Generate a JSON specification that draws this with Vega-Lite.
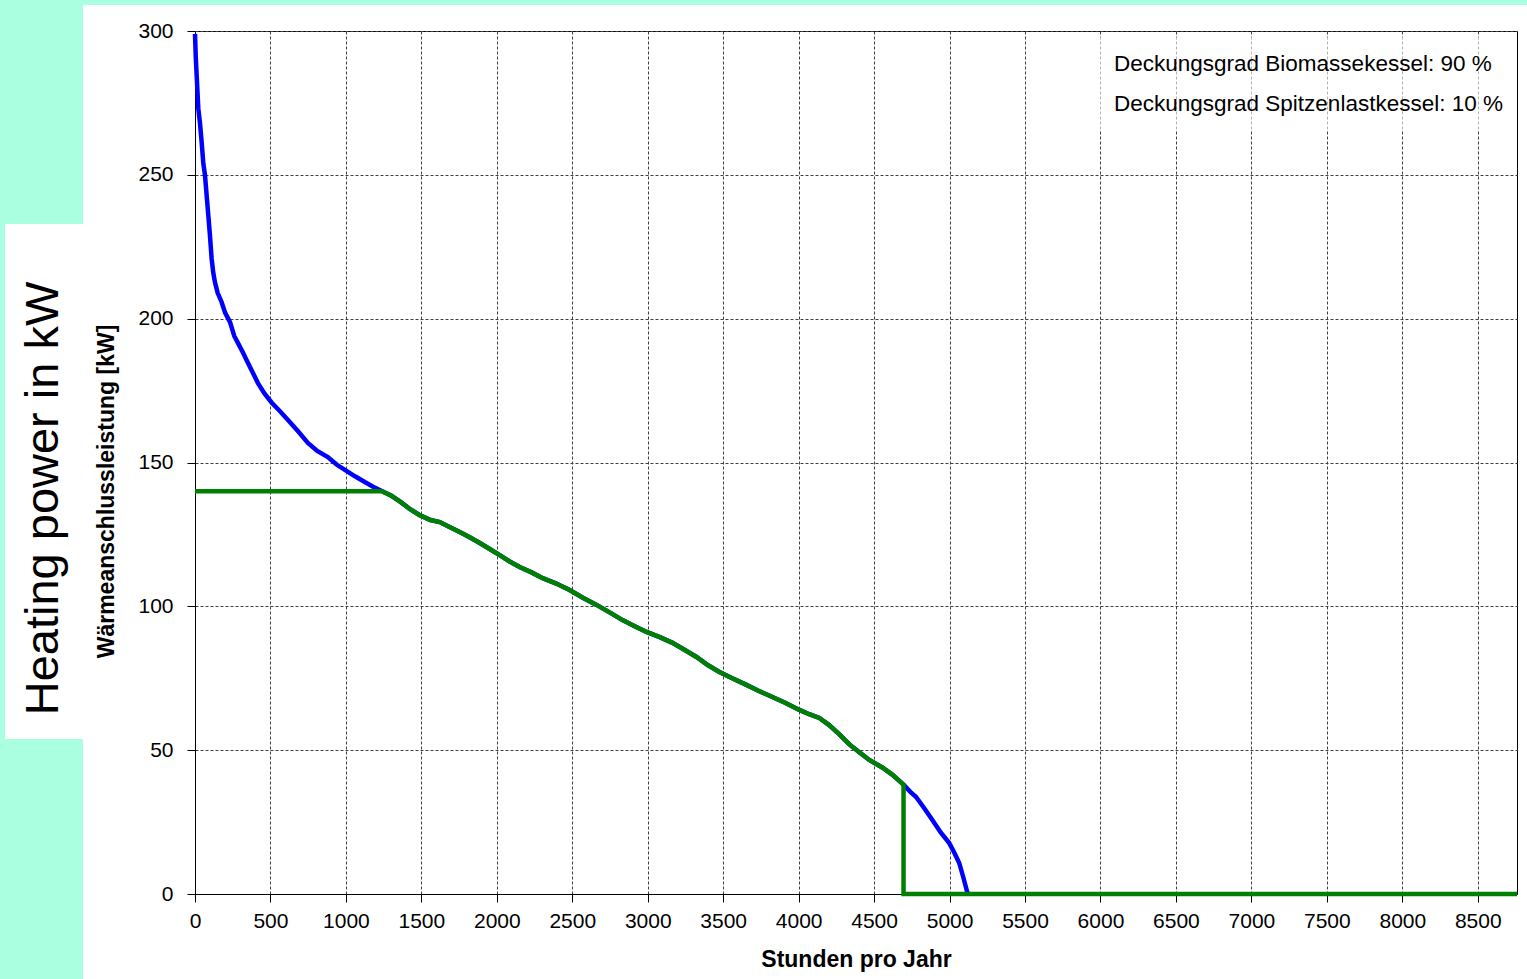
{
  "$schema": "https://vega.github.io/schema/vega-lite/v6.json",
  "background": "white",
  "padding": 0,
  "config": {
    "view": {"stroke": null},
    "font": "Liberation Sans"
  },
  "spacing": 0,
  "bounds": "flush",
  "vconcat": [
    {
      "width": 1527, "height": 5,
      "data": {"values": []},
      "mark": "rect",
      "encoding": {},
      "view": {"fill": "#aaffe1", "stroke": null}
    },
    {
      "spacing": 0,
      "bounds": "flush",
      "hconcat": [
        {
          "width": 5, "height": 974,
          "data": {"values": []},
          "mark": "rect",
          "encoding": {},
          "view": {"fill": "#aaffe1", "stroke": null}
        },
        {
          "width": 78, "height": 974,
          "view": {"fill": "#aaffe1", "stroke": null},
          "data": {"values": [{"label": "Heating power in kW"}]},
          "encoding": {
            "y": {
              "field": "label", "type": "nominal",
              "scale": {"paddingInner": 0, "paddingOuter": 0.44563, "align": 0.4771},
              "axis": null
            }
          },
          "layer": [
            {"mark": {"type": "bar", "color": "white"}},
            {
              "mark": {"type": "text", "angle": 270, "fontSize": 47, "font": "Liberation Sans", "color": "black", "align": "center", "baseline": "middle", "dx": -17},
              "encoding": {"text": {"field": "label"}}
            }
          ]
        },
        {
          "width": 112, "height": 974,
          "data": {"values": []},
          "mark": "rect",
          "encoding": {},
          "view": {"stroke": null}
        },
        {
          "spacing": 0,
          "bounds": "flush",
          "resolve": {"scale": {"color": "independent"}, "legend": {"color": "independent"}},
          "vconcat": [
            {
              "width": 1322, "height": 26,
              "data": {"values": []},
              "mark": "rect",
              "encoding": {},
              "view": {"stroke": null}
            },
            {
              "width": 1322, "height": 863,
              "view": {"stroke": "black", "strokeWidth": 1},
              "data": {"values": [
                {"s": "Deckungsgrad Spitzenlastkessel: 10 %", "h": 0, "kW": 299},
                {"s": "Deckungsgrad Spitzenlastkessel: 10 %", "h": 5, "kW": 291},
                {"s": "Deckungsgrad Spitzenlastkessel: 10 %", "h": 11, "kW": 284.7},
                {"s": "Deckungsgrad Spitzenlastkessel: 10 %", "h": 22, "kW": 273},
                {"s": "Deckungsgrad Spitzenlastkessel: 10 %", "h": 33, "kW": 268},
                {"s": "Deckungsgrad Spitzenlastkessel: 10 %", "h": 44, "kW": 261.4},
                {"s": "Deckungsgrad Spitzenlastkessel: 10 %", "h": 55, "kW": 254},
                {"s": "Deckungsgrad Spitzenlastkessel: 10 %", "h": 66, "kW": 250},
                {"s": "Deckungsgrad Spitzenlastkessel: 10 %", "h": 77, "kW": 243},
                {"s": "Deckungsgrad Spitzenlastkessel: 10 %", "h": 88, "kW": 236},
                {"s": "Deckungsgrad Spitzenlastkessel: 10 %", "h": 99, "kW": 229},
                {"s": "Deckungsgrad Spitzenlastkessel: 10 %", "h": 110, "kW": 221},
                {"s": "Deckungsgrad Spitzenlastkessel: 10 %", "h": 121, "kW": 216},
                {"s": "Deckungsgrad Spitzenlastkessel: 10 %", "h": 132, "kW": 212.7},
                {"s": "Deckungsgrad Spitzenlastkessel: 10 %", "h": 150, "kW": 209},
                {"s": "Deckungsgrad Spitzenlastkessel: 10 %", "h": 176, "kW": 205.8},
                {"s": "Deckungsgrad Spitzenlastkessel: 10 %", "h": 200, "kW": 202},
                {"s": "Deckungsgrad Spitzenlastkessel: 10 %", "h": 232, "kW": 198.8},
                {"s": "Deckungsgrad Spitzenlastkessel: 10 %", "h": 260, "kW": 194},
                {"s": "Deckungsgrad Spitzenlastkessel: 10 %", "h": 285, "kW": 191.5},
                {"s": "Deckungsgrad Spitzenlastkessel: 10 %", "h": 320, "kW": 188},
                {"s": "Deckungsgrad Spitzenlastkessel: 10 %", "h": 351, "kW": 184.6},
                {"s": "Deckungsgrad Spitzenlastkessel: 10 %", "h": 385, "kW": 181},
                {"s": "Deckungsgrad Spitzenlastkessel: 10 %", "h": 417, "kW": 177.6},
                {"s": "Deckungsgrad Spitzenlastkessel: 10 %", "h": 460, "kW": 174},
                {"s": "Deckungsgrad Spitzenlastkessel: 10 %", "h": 510, "kW": 170.7},
                {"s": "Deckungsgrad Spitzenlastkessel: 10 %", "h": 560, "kW": 168},
                {"s": "Deckungsgrad Spitzenlastkessel: 10 %", "h": 616, "kW": 164.8},
                {"s": "Deckungsgrad Spitzenlastkessel: 10 %", "h": 680, "kW": 161},
                {"s": "Deckungsgrad Spitzenlastkessel: 10 %", "h": 748, "kW": 156.8},
                {"s": "Deckungsgrad Spitzenlastkessel: 10 %", "h": 810, "kW": 154},
                {"s": "Deckungsgrad Spitzenlastkessel: 10 %", "h": 880, "kW": 151.9},
                {"s": "Deckungsgrad Spitzenlastkessel: 10 %", "h": 940, "kW": 149.2},
                {"s": "Deckungsgrad Spitzenlastkessel: 10 %", "h": 993, "kW": 147.4},
                {"s": "Deckungsgrad Spitzenlastkessel: 10 %", "h": 1060, "kW": 145.2},
                {"s": "Deckungsgrad Spitzenlastkessel: 10 %", "h": 1125, "kW": 143.2},
                {"s": "Deckungsgrad Spitzenlastkessel: 10 %", "h": 1180, "kW": 141.6},
                {"s": "Deckungsgrad Spitzenlastkessel: 10 %", "h": 1238, "kW": 140.1},
                {"s": "Deckungsgrad Spitzenlastkessel: 10 %", "h": 1300, "kW": 138.5},
                {"s": "Deckungsgrad Spitzenlastkessel: 10 %", "h": 1357, "kW": 136.5},
                {"s": "Deckungsgrad Spitzenlastkessel: 10 %", "h": 1420, "kW": 134},
                {"s": "Deckungsgrad Spitzenlastkessel: 10 %", "h": 1489, "kW": 131.7},
                {"s": "Deckungsgrad Spitzenlastkessel: 10 %", "h": 1560, "kW": 130},
                {"s": "Deckungsgrad Spitzenlastkessel: 10 %", "h": 1622, "kW": 129.3},
                {"s": "Deckungsgrad Spitzenlastkessel: 10 %", "h": 1690, "kW": 127.5},
                {"s": "Deckungsgrad Spitzenlastkessel: 10 %", "h": 1754, "kW": 125.8},
                {"s": "Deckungsgrad Spitzenlastkessel: 10 %", "h": 1820, "kW": 124},
                {"s": "Deckungsgrad Spitzenlastkessel: 10 %", "h": 1887, "kW": 122},
                {"s": "Deckungsgrad Spitzenlastkessel: 10 %", "h": 1950, "kW": 120},
                {"s": "Deckungsgrad Spitzenlastkessel: 10 %", "h": 2019, "kW": 117.8},
                {"s": "Deckungsgrad Spitzenlastkessel: 10 %", "h": 2085, "kW": 115.6},
                {"s": "Deckungsgrad Spitzenlastkessel: 10 %", "h": 2151, "kW": 113.7},
                {"s": "Deckungsgrad Spitzenlastkessel: 10 %", "h": 2230, "kW": 111.8},
                {"s": "Deckungsgrad Spitzenlastkessel: 10 %", "h": 2304, "kW": 109.8},
                {"s": "Deckungsgrad Spitzenlastkessel: 10 %", "h": 2390, "kW": 108},
                {"s": "Deckungsgrad Spitzenlastkessel: 10 %", "h": 2482, "kW": 105.7},
                {"s": "Deckungsgrad Spitzenlastkessel: 10 %", "h": 2570, "kW": 103},
                {"s": "Deckungsgrad Spitzenlastkessel: 10 %", "h": 2661, "kW": 100.5},
                {"s": "Deckungsgrad Spitzenlastkessel: 10 %", "h": 2750, "kW": 97.8},
                {"s": "Deckungsgrad Spitzenlastkessel: 10 %", "h": 2833, "kW": 95.2},
                {"s": "Deckungsgrad Spitzenlastkessel: 10 %", "h": 2910, "kW": 93.2},
                {"s": "Deckungsgrad Spitzenlastkessel: 10 %", "h": 2992, "kW": 91.1},
                {"s": "Deckungsgrad Spitzenlastkessel: 10 %", "h": 3080, "kW": 89.3},
                {"s": "Deckungsgrad Spitzenlastkessel: 10 %", "h": 3164, "kW": 87.3},
                {"s": "Deckungsgrad Spitzenlastkessel: 10 %", "h": 3240, "kW": 85},
                {"s": "Deckungsgrad Spitzenlastkessel: 10 %", "h": 3323, "kW": 82.4},
                {"s": "Deckungsgrad Spitzenlastkessel: 10 %", "h": 3400, "kW": 79.5},
                {"s": "Deckungsgrad Spitzenlastkessel: 10 %", "h": 3475, "kW": 77.2},
                {"s": "Deckungsgrad Spitzenlastkessel: 10 %", "h": 3560, "kW": 75},
                {"s": "Deckungsgrad Spitzenlastkessel: 10 %", "h": 3654, "kW": 72.7},
                {"s": "Deckungsgrad Spitzenlastkessel: 10 %", "h": 3740, "kW": 70.5},
                {"s": "Deckungsgrad Spitzenlastkessel: 10 %", "h": 3826, "kW": 68.5},
                {"s": "Deckungsgrad Spitzenlastkessel: 10 %", "h": 3910, "kW": 66.5},
                {"s": "Deckungsgrad Spitzenlastkessel: 10 %", "h": 4005, "kW": 64},
                {"s": "Deckungsgrad Spitzenlastkessel: 10 %", "h": 4070, "kW": 62.5},
                {"s": "Deckungsgrad Spitzenlastkessel: 10 %", "h": 4137, "kW": 61.2},
                {"s": "Deckungsgrad Spitzenlastkessel: 10 %", "h": 4200, "kW": 58.8},
                {"s": "Deckungsgrad Spitzenlastkessel: 10 %", "h": 4270, "kW": 55.5},
                {"s": "Deckungsgrad Spitzenlastkessel: 10 %", "h": 4336, "kW": 52},
                {"s": "Deckungsgrad Spitzenlastkessel: 10 %", "h": 4402, "kW": 49.3},
                {"s": "Deckungsgrad Spitzenlastkessel: 10 %", "h": 4468, "kW": 46.6},
                {"s": "Deckungsgrad Spitzenlastkessel: 10 %", "h": 4554, "kW": 44},
                {"s": "Deckungsgrad Spitzenlastkessel: 10 %", "h": 4620, "kW": 41.5},
                {"s": "Deckungsgrad Spitzenlastkessel: 10 %", "h": 4695, "kW": 38},
                {"s": "Deckungsgrad Spitzenlastkessel: 10 %", "h": 4740, "kW": 35.5},
                {"s": "Deckungsgrad Spitzenlastkessel: 10 %", "h": 4777, "kW": 33.8},
                {"s": "Deckungsgrad Spitzenlastkessel: 10 %", "h": 4830, "kW": 30},
                {"s": "Deckungsgrad Spitzenlastkessel: 10 %", "h": 4886, "kW": 25.7},
                {"s": "Deckungsgrad Spitzenlastkessel: 10 %", "h": 4940, "kW": 21.5},
                {"s": "Deckungsgrad Spitzenlastkessel: 10 %", "h": 4998, "kW": 17.7},
                {"s": "Deckungsgrad Spitzenlastkessel: 10 %", "h": 5030, "kW": 14.5},
                {"s": "Deckungsgrad Spitzenlastkessel: 10 %", "h": 5064, "kW": 10.8},
                {"s": "Deckungsgrad Spitzenlastkessel: 10 %", "h": 5090, "kW": 6},
                {"s": "Deckungsgrad Spitzenlastkessel: 10 %", "h": 5117, "kW": 0.7},
                {"s": "Deckungsgrad Spitzenlastkessel: 10 %", "h": 5122, "kW": 0},
                {"s": "Deckungsgrad Biomassekessel: 90 %", "h": 0, "kW": 140},
                {"s": "Deckungsgrad Biomassekessel: 90 %", "h": 1238, "kW": 140},
                {"s": "Deckungsgrad Biomassekessel: 90 %", "h": 1300, "kW": 138.5},
                {"s": "Deckungsgrad Biomassekessel: 90 %", "h": 1357, "kW": 136.5},
                {"s": "Deckungsgrad Biomassekessel: 90 %", "h": 1420, "kW": 134},
                {"s": "Deckungsgrad Biomassekessel: 90 %", "h": 1489, "kW": 131.7},
                {"s": "Deckungsgrad Biomassekessel: 90 %", "h": 1560, "kW": 130},
                {"s": "Deckungsgrad Biomassekessel: 90 %", "h": 1622, "kW": 129.3},
                {"s": "Deckungsgrad Biomassekessel: 90 %", "h": 1690, "kW": 127.5},
                {"s": "Deckungsgrad Biomassekessel: 90 %", "h": 1754, "kW": 125.8},
                {"s": "Deckungsgrad Biomassekessel: 90 %", "h": 1820, "kW": 124},
                {"s": "Deckungsgrad Biomassekessel: 90 %", "h": 1887, "kW": 122},
                {"s": "Deckungsgrad Biomassekessel: 90 %", "h": 1950, "kW": 120},
                {"s": "Deckungsgrad Biomassekessel: 90 %", "h": 2019, "kW": 117.8},
                {"s": "Deckungsgrad Biomassekessel: 90 %", "h": 2085, "kW": 115.6},
                {"s": "Deckungsgrad Biomassekessel: 90 %", "h": 2151, "kW": 113.7},
                {"s": "Deckungsgrad Biomassekessel: 90 %", "h": 2230, "kW": 111.8},
                {"s": "Deckungsgrad Biomassekessel: 90 %", "h": 2304, "kW": 109.8},
                {"s": "Deckungsgrad Biomassekessel: 90 %", "h": 2390, "kW": 108},
                {"s": "Deckungsgrad Biomassekessel: 90 %", "h": 2482, "kW": 105.7},
                {"s": "Deckungsgrad Biomassekessel: 90 %", "h": 2570, "kW": 103},
                {"s": "Deckungsgrad Biomassekessel: 90 %", "h": 2661, "kW": 100.5},
                {"s": "Deckungsgrad Biomassekessel: 90 %", "h": 2750, "kW": 97.8},
                {"s": "Deckungsgrad Biomassekessel: 90 %", "h": 2833, "kW": 95.2},
                {"s": "Deckungsgrad Biomassekessel: 90 %", "h": 2910, "kW": 93.2},
                {"s": "Deckungsgrad Biomassekessel: 90 %", "h": 2992, "kW": 91.1},
                {"s": "Deckungsgrad Biomassekessel: 90 %", "h": 3080, "kW": 89.3},
                {"s": "Deckungsgrad Biomassekessel: 90 %", "h": 3164, "kW": 87.3},
                {"s": "Deckungsgrad Biomassekessel: 90 %", "h": 3240, "kW": 85},
                {"s": "Deckungsgrad Biomassekessel: 90 %", "h": 3323, "kW": 82.4},
                {"s": "Deckungsgrad Biomassekessel: 90 %", "h": 3400, "kW": 79.5},
                {"s": "Deckungsgrad Biomassekessel: 90 %", "h": 3475, "kW": 77.2},
                {"s": "Deckungsgrad Biomassekessel: 90 %", "h": 3560, "kW": 75},
                {"s": "Deckungsgrad Biomassekessel: 90 %", "h": 3654, "kW": 72.7},
                {"s": "Deckungsgrad Biomassekessel: 90 %", "h": 3740, "kW": 70.5},
                {"s": "Deckungsgrad Biomassekessel: 90 %", "h": 3826, "kW": 68.5},
                {"s": "Deckungsgrad Biomassekessel: 90 %", "h": 3910, "kW": 66.5},
                {"s": "Deckungsgrad Biomassekessel: 90 %", "h": 4005, "kW": 64},
                {"s": "Deckungsgrad Biomassekessel: 90 %", "h": 4070, "kW": 62.5},
                {"s": "Deckungsgrad Biomassekessel: 90 %", "h": 4137, "kW": 61.2},
                {"s": "Deckungsgrad Biomassekessel: 90 %", "h": 4200, "kW": 58.8},
                {"s": "Deckungsgrad Biomassekessel: 90 %", "h": 4270, "kW": 55.5},
                {"s": "Deckungsgrad Biomassekessel: 90 %", "h": 4336, "kW": 52},
                {"s": "Deckungsgrad Biomassekessel: 90 %", "h": 4402, "kW": 49.3},
                {"s": "Deckungsgrad Biomassekessel: 90 %", "h": 4468, "kW": 46.6},
                {"s": "Deckungsgrad Biomassekessel: 90 %", "h": 4554, "kW": 44},
                {"s": "Deckungsgrad Biomassekessel: 90 %", "h": 4620, "kW": 41.5},
                {"s": "Deckungsgrad Biomassekessel: 90 %", "h": 4695, "kW": 38},
                {"s": "Deckungsgrad Biomassekessel: 90 %", "h": 4695, "kW": 0},
                {"s": "Deckungsgrad Biomassekessel: 90 %", "h": 8760, "kW": 0}
              ]},
              "encoding": {
                "x": {
                  "field": "h", "type": "quantitative",
                  "scale": {"domain": [0, 8760], "nice": false, "zero": false},
                  "axis": {
                    "title": "Stunden pro Jahr",
                    "format": "d",
                    "values": [0, 500, 1000, 1500, 2000, 2500, 3000, 3500, 4000, 4500, 5000, 5500, 6000, 6500, 7000, 7500, 8000, 8500],
                    "labelFlush": false, "labelOverlap": false,
                    "labelFontSize": 21, "labelColor": "black", "labelFont": "Liberation Sans",
                    "labelPadding": 8,
                    "tickSize": 8, "tickColor": "black",
                    "domainColor": "black",
                    "grid": true, "gridColor": "#404040", "gridDash": [3, 2], "gridWidth": 1,
                    "titleFont": "Liberation Sans", "titleFontSize": 23, "titleFontWeight": "bold", "titleColor": "black",
                    "titlePadding": 17
                  }
                },
                "y": {
                  "field": "kW", "type": "quantitative",
                  "scale": {"domain": [0, 300], "nice": false},
                  "axis": {
                    "title": "Wärmeanschlussleistung [kW]",
                    "format": "d",
                    "values": [0, 50, 100, 150, 200, 250, 300],
                    "labelFlush": false, "labelOverlap": false,
                    "labelFontSize": 21, "labelColor": "black", "labelFont": "Liberation Sans",
                    "labelPadding": 14,
                    "tickSize": 8, "tickColor": "black",
                    "domainColor": "black",
                    "grid": true, "gridColor": "#404040", "gridDash": [3, 2], "gridWidth": 1,
                    "titleFont": "Liberation Sans", "titleFontSize": 23, "titleFontWeight": "bold", "titleColor": "black",
                    "titleX": -89, "titleY": 460, "titleBaseline": "middle", "titleAngle": 270
                  }
                },
                "color": {
                  "field": "s", "type": "nominal",
                  "scale": {
                    "domain": ["Deckungsgrad Biomassekessel: 90 %", "Deckungsgrad Spitzenlastkessel: 10 %"],
                    "range": ["#008000", "#0000ff"]
                  },
                  "legend": {
                    "title": null,
                    "orient": "top-right",
                    "offset": 6,
                    "padding": 8,
                    "fillColor": "rgba(255,255,255,0.6)",
                    "symbolType": "circle",
                    "symbolSize": 1369,
                    "symbolOpacity": 0,
                    "symbolStrokeWidth": 0,
                    "labelOffset": 0,
                    "labelFont": "Liberation Sans",
                    "labelFontSize": 22.5,
                    "labelColor": "black",
                    "labelLimit": 600,
                    "rowPadding": 3
                  }
                },
                "order": {"value": null}
              },
              "layer": [
                {
                  "transform": [{"filter": "datum.s == 'Deckungsgrad Spitzenlastkessel: 10 %'"}],
                  "mark": {"type": "line", "strokeWidth": 4.5, "clip": false}
                },
                {
                  "transform": [{"filter": "datum.s == 'Deckungsgrad Biomassekessel: 90 %'"}],
                  "mark": {"type": "line", "strokeWidth": 4.5, "clip": false}
                }
              ]
            }
          ]
        }
      ]
    }
  ]
}
